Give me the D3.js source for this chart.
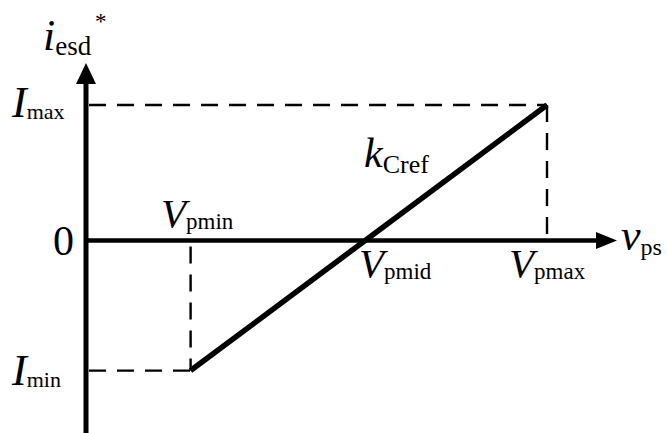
<!DOCTYPE html>
<html>
<head>
<meta charset="utf-8">
<script src="https://cdn.jsdelivr.net/npm/d3@7"></script>
<style>
  html, body { margin: 0; padding: 0; background: #fff; }
  svg { display: block; }
</style>
</head>
<body>
<svg id="chart" width="668" height="433"></svg>
<script>
// Reference voltages (normalised, V_pmid = 0, V_pmax = 1)
const voltageNames = ["pmin", "pmid", "pmax"];
const voltageValues = [-0.98, 0, 1];
// Reference current limits (normalised, I_max = 1)
const currentNames = ["min", "max"];
const currentValues = [-0.96, 1];
// Characteristic: i_esd* rises linearly from (V_pmin, I_min) to (V_pmax, I_max)
const curveV = [-0.98, 1];
const curveI = [-0.96, 1];

const FONT = "Liberation Serif";

const svg = d3.select("#chart");

const x = d3.scaleLinear().domain([0, 1]).range([367, 547]);
const y = d3.scaleLinear().domain([0, 1]).range([240.5, 105]);

const xAxisStart = x.invert(86);   // vertical axis position
const xAxisEnd = x.invert(598);    // arrow base
const yAxisBottom = y.invert(433);
const yAxisTop = y.invert(82);

const x0 = x(xAxisStart);

// Dashed guide lines
const guides = svg.append("g")
  .attr("stroke", "#000")
  .attr("stroke-width", 2.4)
  .attr("stroke-dasharray", "17,11")
  .attr("fill", "none");

// I_max horizontal and V_pmax vertical
guides.append("line")
  .attr("x1", x0 + 3).attr("y1", y(currentValues[1]))
  .attr("x2", x(voltageValues[2])).attr("y2", y(currentValues[1]));
guides.append("line")
  .attr("x1", x(voltageValues[2])).attr("y1", y(currentValues[1]))
  .attr("x2", x(voltageValues[2])).attr("y2", y(0));
// I_min horizontal and V_pmin vertical
guides.append("line")
  .attr("x1", x0 + 3).attr("y1", y(currentValues[0]))
  .attr("x2", x(voltageValues[0])).attr("y2", y(currentValues[0]));
guides.append("line")
  .attr("x1", x(voltageValues[0])).attr("y1", y(0) + 6)
  .attr("x2", x(voltageValues[0])).attr("y2", y(currentValues[0]));

// Axes
svg.append("line")
  .attr("x1", x0).attr("y1", y(yAxisBottom))
  .attr("x2", x0).attr("y2", y(yAxisTop))
  .attr("stroke", "#000").attr("stroke-width", 5);
svg.append("line")
  .attr("x1", x0).attr("y1", y(0))
  .attr("x2", x(xAxisEnd)).attr("y2", y(0))
  .attr("stroke", "#000").attr("stroke-width", 4.5);

// Arrowheads
svg.append("path")
  .attr("d", `M${x0},63 L${x0 - 10},84 L${x0 + 10},84 Z`)
  .attr("fill", "#000");
svg.append("path")
  .attr("d", `M617,${y(0)} L596,${y(0) - 8.5} L596,${y(0) + 8.5} Z`)
  .attr("fill", "#000");

// Characteristic line
const line = d3.line().x(d => x(d[0])).y(d => y(d[1]));
svg.append("path")
  .datum(curveV.map((v, i) => [v, curveI[i]]))
  .attr("d", line)
  .attr("stroke", "#000")
  .attr("stroke-width", 5.5)
  .attr("stroke-linecap", "butt")
  .attr("fill", "none");

// Label helper: italic main symbol plus upright subscript
function label(px, py, main, sub, opts = {}) {
  const t = svg.append("text")
    .attr("x", px).attr("y", py)
    .attr("font-family", FONT)
    .attr("fill", "#000");
  t.append("tspan")
    .attr("font-style", "italic")
    .attr("font-size", opts.mainSize || 41)
    .text(main);
  t.append("tspan")
    .attr("font-size", opts.subSize || 23)
    .attr("dy", opts.subDy || 2)
    .attr("dx", opts.subDx || 0)
    .text(sub);
  return t;
}

// Current labels
label(12, 117, "I", currentNames[1], { mainSize: 44, subSize: 22 });
label(12, 385, "I", currentNames[0], { mainSize: 44, subSize: 22 });
svg.append("text").attr("x", 53).attr("y", 255)
  .attr("font-family", FONT)
  .attr("font-size", 42).text("0");

// Voltage labels
label(161, 227, "V", voltageNames[0]);
label(359, 277, "V", voltageNames[1]);
label(509, 277, "V", voltageNames[2]);

// Axis titles
label(621, 250, "v", "ps", { mainSize: 44, subDy: 5, subSize: 24 });
label(43, 50, "i", "esd", { mainSize: 44, subDy: 5, subSize: 27 });
svg.append("text").attr("x", 95).attr("y", 29)
  .attr("font-family", FONT)
  .attr("font-size", 23).text("*");

// Slope label
label(364, 167, "k", "Cref", { mainSize: 42, subDy: 6, subSize: 26 });
</script>
</body>
</html>
